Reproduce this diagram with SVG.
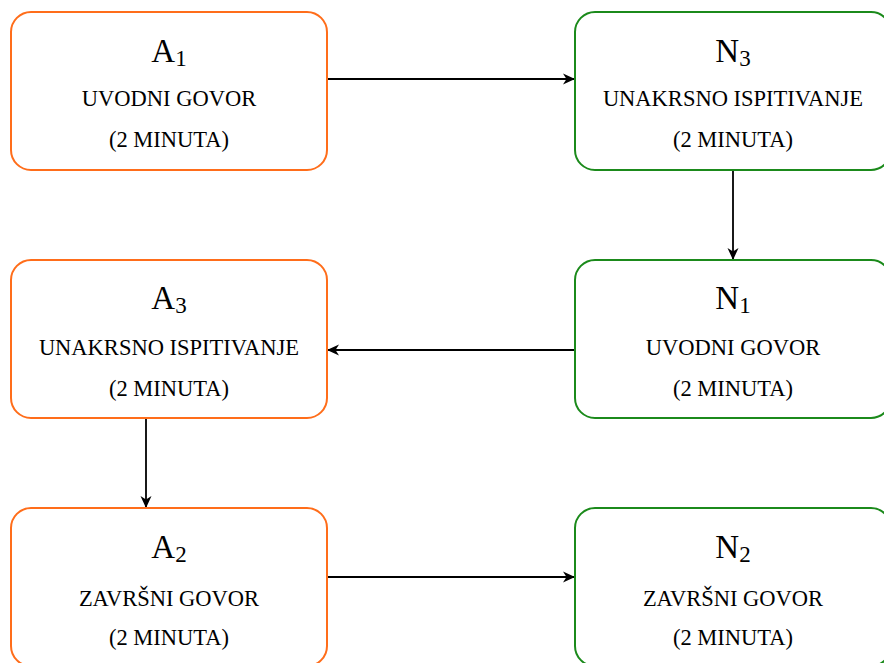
<svg xmlns="http://www.w3.org/2000/svg" width="884" height="663" viewBox="0 0 884 663">
<style>
.box{fill:#fff;stroke-width:2}
.a{stroke:#FF6D1A}
.n{stroke:#1B8A1B}
text{font-family:"Liberation Serif","Times New Roman",serif;fill:#000;text-anchor:middle}
.t{font-size:33px}
.s{font-size:23px}
.l{font-size:22.5px}
.c{stroke:#000;stroke-width:1.8;fill:none;marker-end:url(#ah)}
</style>
<defs>
<marker id="ah" markerUnits="userSpaceOnUse" markerWidth="16" markerHeight="14" viewBox="0 0 16 14" refX="13" refY="7" orient="auto">
<path d="M1,1.5 L13,7 L1,12.5 L4.5,7 Z" fill="#000"/>
</marker>
</defs>
<rect width="884" height="663" fill="#fff"/>
<g id="connectors">
<line class="c" x1="327" y1="79" x2="575" y2="79"/>
<line class="c" x1="733" y1="170" x2="733" y2="260"/>
<line class="c" x1="575" y1="350" x2="327" y2="350"/>
<line class="c" x1="146" y1="418" x2="146" y2="508"/>
<line class="c" x1="327" y1="577" x2="575" y2="577"/>
</g>
<g id="A1">
<rect class="box a" x="11" y="12" width="316" height="158" rx="20"/>
<text x="169" y="62" class="t">A<tspan class="s" dy="4">1</tspan></text>
<text x="169" y="106" class="l">UVODNI GOVOR</text>
<text x="169" y="147" class="l">(2 MINUTA)</text>
</g>
<g id="N3">
<rect class="box n" x="575" y="12" width="316" height="158" rx="20"/>
<text x="733" y="62" class="t">N<tspan class="s" dy="4">3</tspan></text>
<text x="733" y="106" class="l">UNAKRSNO ISPITIVANJE</text>
<text x="733" y="147" class="l">(2 MINUTA)</text>
</g>
<g id="A3">
<rect class="box a" x="11" y="260" width="316" height="158" rx="20"/>
<text x="169" y="309" class="t">A<tspan class="s" dy="4">3</tspan></text>
<text x="169" y="355" class="l">UNAKRSNO ISPITIVANJE</text>
<text x="169" y="396" class="l">(2 MINUTA)</text>
</g>
<g id="N1">
<rect class="box n" x="575" y="260" width="316" height="158" rx="20"/>
<text x="733" y="309" class="t">N<tspan class="s" dy="4">1</tspan></text>
<text x="733" y="355" class="l">UVODNI GOVOR</text>
<text x="733" y="396" class="l">(2 MINUTA)</text>
</g>
<g id="A2">
<rect class="box a" x="11" y="508" width="316" height="158" rx="20"/>
<text x="169" y="558" class="t">A<tspan class="s" dy="4">2</tspan></text>
<text x="169" y="606" class="l">ZAVRŠNI GOVOR</text>
<text x="169" y="645" class="l">(2 MINUTA)</text>
</g>
<g id="N2">
<rect class="box n" x="575" y="508" width="316" height="158" rx="20"/>
<text x="733" y="558" class="t">N<tspan class="s" dy="4">2</tspan></text>
<text x="733" y="606" class="l">ZAVRŠNI GOVOR</text>
<text x="733" y="645" class="l">(2 MINUTA)</text>
</g>
</svg>
